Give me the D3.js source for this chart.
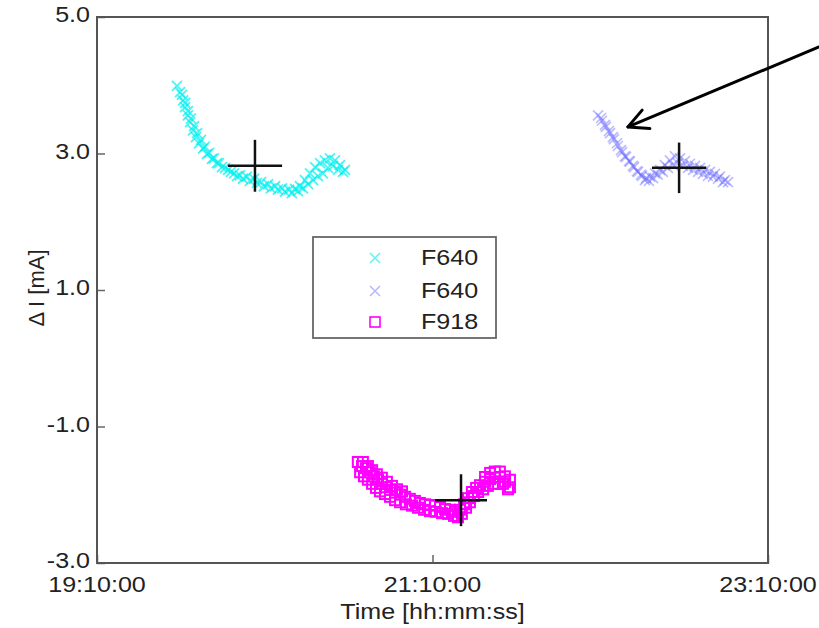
<!DOCTYPE html>
<html>
<head>
<meta charset="utf-8">
<script src="https://cdn.jsdelivr.net/npm/d3@7"></script>
<style>
  html, body { margin: 0; padding: 0; background: #fff; }
  svg { display: block; }
  text { font-family: "Liberation Sans", Arial, sans-serif; fill: #222; }
</style>
</head>
<body>
<svg id="chart" width="819" height="628"></svg>
<script>
// ---------- data ----------
const xTickLabels = ["19:10:00", "21:10:00", "23:10:00"];
const yTickValues = [5.0, 3.0, 1.0, -1.0, -3.0];
const yTickLabels = ["5.0", "3.0", "1.0", "-1.0", "-3.0"];
const legendLabels = ["F640", "F640", "F918"];

const cyanTimes = ["19:38:36","19:39:42","19:40:48","19:41:30","19:42:30","19:43:18","19:44:18","19:45:24","19:46:30","19:47:54",
  "19:49:18","19:51:06","19:52:54","19:54:42","19:56:54","19:59:00","20:01:06","20:03:36","20:06:12","20:08:42",
  "20:11:12","20:13:42","20:16:12","20:18:42","20:20:48","20:22:36","20:24:24","20:26:12","20:28:00","20:29:48",
  "20:31:30","20:33:18","20:35:06","20:36:54","20:38:42",
  "19:40:24","19:41:30","19:42:30","19:43:36","19:44:42","19:45:48","19:47:12","19:48:36","19:50:06","19:51:48",
  "19:53:36","19:55:48","19:57:54","20:00:06","20:02:12","20:04:42","20:07:12","20:09:42","20:12:12","20:14:42",
  "20:17:12","20:19:42","20:21:54","20:23:42","20:25:30","20:27:18","20:29:00","20:30:48","20:32:36","20:34:24",
  "20:36:12","20:38:00"];
const cyanValues = [3.99,3.90,3.78,3.68,3.56,3.46,3.34,3.24,3.15,3.07,
  2.99,2.92,2.86,2.80,2.76,2.71,2.68,2.66,2.63,2.58,
  2.55,2.52,2.49,2.47,2.48,2.52,2.61,2.71,2.80,2.86,
  2.90,2.93,2.90,2.83,2.76,
  3.86,3.74,3.62,3.51,3.40,3.30,3.20,3.10,3.01,2.93,
  2.86,2.79,2.73,2.67,2.63,2.60,2.57,2.52,2.49,2.47,
  2.44,2.42,2.45,2.49,2.55,2.61,2.67,2.71,2.79,2.82,
  2.76,2.73];

const blueTimes = ["22:09:12","22:10:36","22:12:00","22:13:30","22:14:54","22:16:18","22:17:48","22:19:12","22:20:36","22:22:06",
  "22:23:30","22:24:54","22:26:24","22:27:48","22:29:36","22:31:24","22:33:06","22:34:54","22:36:42","22:38:30",
  "22:40:18","22:42:06","22:43:54","22:45:42","22:47:30","22:49:12","22:51:00","22:52:48","22:54:36",
  "22:10:18","22:11:42","22:13:06","22:14:30","22:16:00","22:17:24","22:18:48","22:20:18","22:21:42","22:23:06",
  "22:24:36","22:26:00","22:27:24","22:28:54","22:30:36","22:32:24","22:34:12","22:36:00","22:37:48","22:39:36",
  "22:41:24","22:43:12","22:45:00","22:46:42","22:48:30","22:50:18","22:52:06","22:53:54","22:55:42"];
const blueValues = [3.56,3.48,3.39,3.30,3.21,3.11,3.02,2.95,2.88,2.80,
  2.73,2.67,2.64,2.66,2.71,2.76,2.83,2.90,2.96,2.93,
  2.89,2.85,2.82,2.79,2.76,2.73,2.70,2.66,2.61,
  3.52,3.42,3.33,3.24,3.15,3.05,2.96,2.89,2.82,2.74,
  2.69,2.61,2.60,2.64,2.69,2.73,2.79,2.83,2.86,2.82,
  2.79,2.76,2.73,2.70,2.67,2.66,2.63,2.58,2.58];

const magentaTimes = ["20:44:48","20:46:12","20:47:36","20:49:06","20:50:30","20:51:54","20:53:24","20:54:48","20:56:36","20:58:24",
  "21:00:12","21:01:54","21:03:42","21:05:30","21:07:18","21:09:06","21:10:54","21:12:42","21:14:30","21:16:18",
  "21:18:00","21:19:48","21:21:18","21:22:42","21:24:06","21:25:36","21:27:00","21:28:48","21:30:36","21:32:18",
  "21:34:06","21:35:54","21:37:42",
  "20:44:06","20:45:30","20:46:54","20:48:24","20:49:48","20:51:12","20:53:00","20:54:48","20:56:36","20:58:24",
  "21:00:30","21:02:42","21:04:48","21:07:00","21:09:06","21:11:12","21:13:24","21:15:30","21:17:42","21:19:06",
  "21:20:30","21:22:00","21:23:24","21:24:48","21:26:18","21:28:06","21:29:48","21:31:36","21:33:24","21:35:12",
  "21:37:00",
  "20:43:18","20:45:06","20:46:54","20:48:24","20:50:06","20:51:54","20:53:42","20:55:30","20:57:18","20:59:06",
  "21:28:48","21:30:36","21:32:18","21:34:06","21:35:54","21:37:42"];
const magentaValues = [-1.58,-1.61,-1.67,-1.73,-1.78,-1.84,-1.89,-1.93,-1.97,-2.00,
  -2.03,-2.06,-2.09,-2.12,-2.14,-2.15,-2.16,-2.18,-2.21,-2.22,
  -2.25,-2.22,-2.14,-2.05,-1.96,-1.90,-1.86,-1.81,-1.77,-1.75,
  -1.74,-1.81,-1.89,
  -1.67,-1.73,-1.78,-1.84,-1.90,-1.95,-1.99,-2.03,-2.08,-2.11,
  -2.14,-2.16,-2.19,-2.22,-2.24,-2.25,-2.27,-2.28,-2.31,-2.33,
  -2.28,-2.19,-2.11,-2.02,-1.96,-1.92,-1.87,-1.84,-1.84,-1.84,
  -1.92,
  -1.52,-1.52,-1.58,-1.64,-1.70,-1.75,-1.81,-1.87,-1.92,-1.95,
  -1.74,-1.68,-1.66,-1.66,-1.73,-1.78];

// mean values with spread ("+" crosses)
const crossTimes = ["20:06:30", "22:38:12", "21:20:12"];
const crossValues = [2.82, 2.79, -2.08];
const crossSpreadMinutes = [9.7, 9.7, 9.3];
const crossSpreadValues = [0.38, 0.37, 0.38];

// annotation arrow (tail outside plot, tip at the blue series)
const arrowTimes = ["23:34:00", "22:19:54"];
const arrowValues = [4.66, 3.39];

// ---------- layout ----------
const W = 819, H = 628;
const margin = {left: 97, right: 51, top: 17, bottom: 65};
const iw = W - margin.left - margin.right;
const ih = H - margin.top - margin.bottom;
const STRETCH = 1.14;

const parse = d3.timeParse("%H:%M:%S");
const x = d3.scaleTime()
  .domain([parse("19:10:00"), parse("23:10:00")])
  .range([margin.left, margin.left + iw]);
const y = d3.scaleLinear()
  .domain([-3, 5])
  .range([margin.top + ih, margin.top]);

const svg = d3.select("#chart");

function stretchedText(g, px, py, str, size, anchor) {
  return g.append("text")
    .attr("transform", `translate(${px},${py}) scale(${STRETCH},1)`)
    .attr("text-anchor", anchor)
    .attr("dominant-baseline", "central")
    .style("font-size", size + "px")
    .text(str);
}

// ---------- axes ----------
const xTicks = xTickLabels.map(parse);
const xAxis = d3.axisBottom(x).tickValues(xTicks).tickSize(-8).tickFormat("");
const yAxis = d3.axisLeft(y).tickValues(yTickValues).tickSize(-8).tickFormat("");

const gx = svg.append("g").attr("transform", `translate(0,${margin.top + ih})`).call(xAxis);
const gy = svg.append("g").attr("transform", `translate(${margin.left},0)`).call(yAxis);
[gx, gy].forEach(g => {
  g.select(".domain").remove();
  g.selectAll(".tick line").attr("stroke", "#666").attr("stroke-width", 1.5);
});

// frame
svg.append("rect")
  .attr("x", margin.left).attr("y", margin.top)
  .attr("width", iw).attr("height", ih)
  .attr("fill", "none").attr("stroke", "#555").attr("stroke-width", 2);

// tick labels
xTicks.forEach((t, i) => stretchedText(svg, x(t), margin.top + ih + 22, xTickLabels[i], 22, "middle"));
yTickValues.forEach((v, i) => stretchedText(svg, margin.left - 7, y(v) - 2, yTickLabels[i], 22, "end"));

// axis titles
stretchedText(svg, margin.left + iw / 2, 612, "Time [hh:mm:ss]", 22, "middle");
svg.append("text")
  .attr("transform", `translate(36,${margin.top + ih / 2 - 2}) rotate(-90)`)
  .attr("text-anchor", "middle")
  .attr("dominant-baseline", "central")
  .style("font-size", "22px")
  .text("\u0394 I [mA]");

// ---------- data ----------
const xMark = "M-5,-5L5,5M-5,5L5,-5";
const toPts = (ts, vs) => ts.map((t, i) => ({t: parse(t), v: vs[i]}));

svg.append("g").selectAll("path")
  .data(toPts(cyanTimes, cyanValues)).join("path")
  .attr("transform", d => `translate(${x(d.t)},${y(d.v)})`)
  .attr("d", xMark).attr("fill", "none")
  .attr("stroke", "#00f0f0").attr("stroke-opacity", 0.7).attr("stroke-width", 1.8);

svg.append("g").selectAll("path")
  .data(toPts(blueTimes, blueValues)).join("path")
  .attr("transform", d => `translate(${x(d.t)},${y(d.v)})`)
  .attr("d", xMark).attr("fill", "none")
  .attr("stroke", "#6a6aff").attr("stroke-opacity", 0.45).attr("stroke-width", 1.7);

svg.append("g").selectAll("rect")
  .data(toPts(magentaTimes, magentaValues)).join("rect")
  .attr("x", d => x(d.t) - 5).attr("y", d => y(d.v) - 5)
  .attr("width", 10).attr("height", 10)
  .attr("fill", "none").attr("stroke", "#ff00ff").attr("stroke-width", 2);

// crosses
const crosses = crossTimes.map((t, i) => ({
  t: parse(t), v: crossValues[i], dm: crossSpreadMinutes[i], dv: crossSpreadValues[i]
}));
const cg = svg.append("g").attr("stroke", "#111").attr("stroke-width", 2.5);
crosses.forEach(c => {
  cg.append("line")
    .attr("x1", x(new Date(+c.t - c.dm * 60000))).attr("x2", x(new Date(+c.t + c.dm * 60000)))
    .attr("y1", y(c.v)).attr("y2", y(c.v));
  cg.append("line")
    .attr("x1", x(c.t)).attr("x2", x(c.t))
    .attr("y1", y(c.v - c.dv)).attr("y2", y(c.v + c.dv));
});

// ---------- legend ----------
const lg = svg.append("g");
lg.append("rect").attr("x", 313).attr("y", 237).attr("width", 183).attr("height", 101)
  .attr("fill", "#fff").attr("stroke", "#666").attr("stroke-width", 1.8);
const legendRows = [258, 291, 322];
lg.append("path").attr("transform", `translate(375,${legendRows[0]})`).attr("d", xMark)
  .attr("stroke", "#5ff5f5").attr("stroke-width", 1.5).attr("fill", "none");
lg.append("path").attr("transform", `translate(375,${legendRows[1]})`).attr("d", xMark)
  .attr("stroke", "#b8b8ff").attr("stroke-width", 1.5).attr("fill", "none");
lg.append("rect").attr("x", 370).attr("y", legendRows[2] - 5).attr("width", 10).attr("height", 10)
  .attr("fill", "none").attr("stroke", "#ff00ff").attr("stroke-width", 1.6);
legendLabels.forEach((s, i) => stretchedText(lg, 421, legendRows[i], s, 22, "start"));

// ---------- annotation arrow ----------
const ax0 = x(parse(arrowTimes[0])), ay0 = y(arrowValues[0]);
const ax1 = x(parse(arrowTimes[1])), ay1 = y(arrowValues[1]);
const ang = Math.atan2(ay0 - ay1, ax0 - ax1);
const headLen = 22, headAng = 27 * Math.PI / 180;
const ag = svg.append("g").attr("stroke", "#000").attr("stroke-width", 3).attr("fill", "none")
  .attr("stroke-linecap", "round").attr("stroke-linejoin", "round");
ag.append("line").attr("x1", ax0).attr("y1", ay0).attr("x2", ax1).attr("y2", ay1);
ag.append("path").attr("d",
  `M${ax1 + headLen * Math.cos(ang - headAng)},${ay1 + headLen * Math.sin(ang - headAng)}` +
  `L${ax1},${ay1}` +
  `L${ax1 + headLen * Math.cos(ang + headAng)},${ay1 + headLen * Math.sin(ang + headAng)}`);
</script>
</body>
</html>
